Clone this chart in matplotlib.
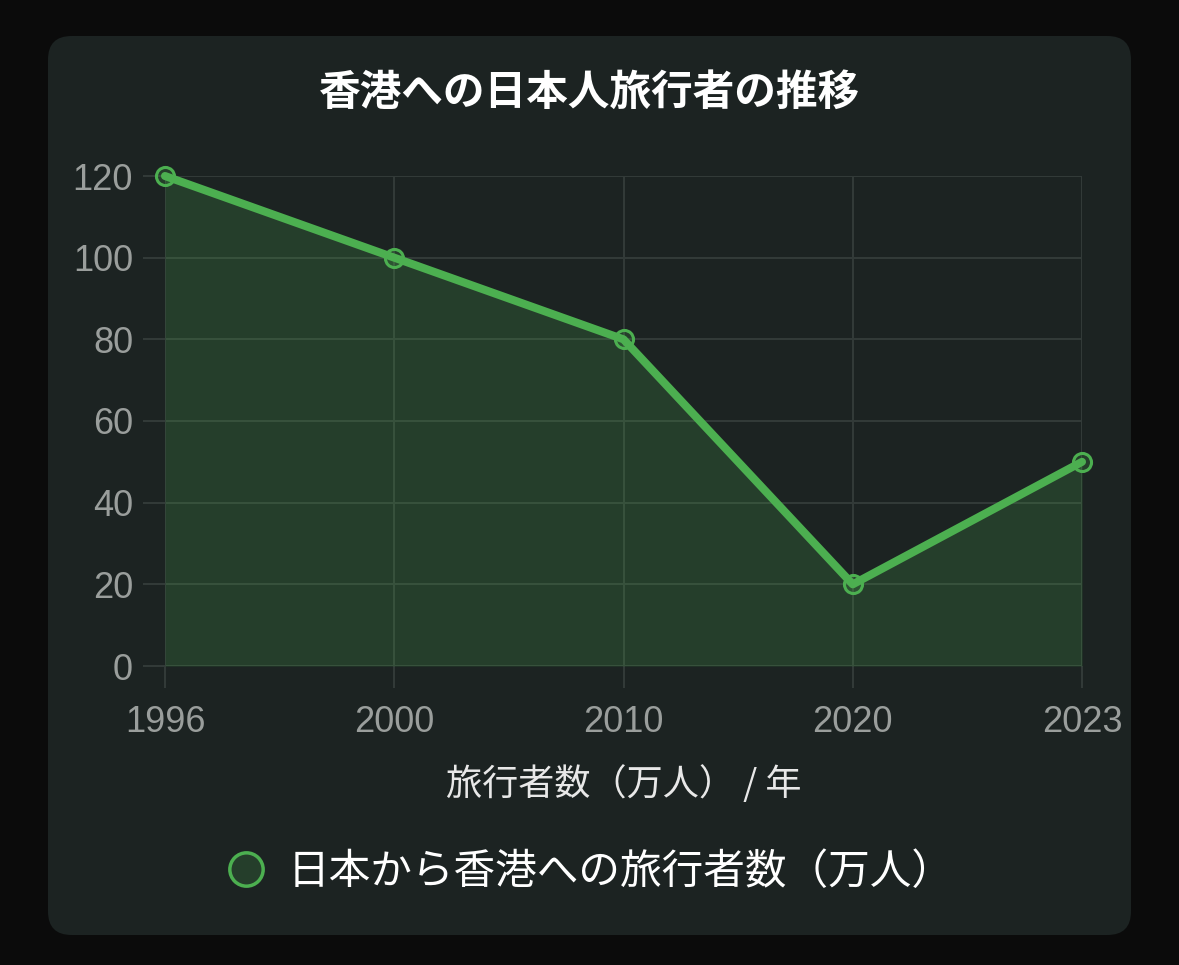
import matplotlib
matplotlib.use("Agg")
import matplotlib.pyplot as plt
from matplotlib.patches import FancyBboxPatch
from matplotlib.lines import Line2D

plt.rcParams['font.family'] = ['Liberation Sans', 'Noto Sans CJK JP', 'DejaVu Sans']

years = ['1996', '2000', '2010', '2020', '2023']
travelers = [120, 100, 80, 20, 50]
y_ticks = [0, 20, 40, 60, 80, 100, 120]

title = '香港への日本人旅行者の推移'
x_label = '旅行者数（万人） / 年'
series_label = '日本から香港への旅行者数（万人）'

bg = '#0b0b0b'
card = '#1c2322'
green = '#4caf50'
fill = (76 / 255, 175 / 255, 80 / 255, 0.2)
grid = '#323a38'
tick_col = '#9a9e9c'
cjk = ['Noto Sans CJK JP', 'DejaVu Sans']

W, H = 1179, 965
fig = plt.figure(figsize=(W / 100, H / 100), dpi=100)
fig.patch.set_facecolor(bg)

# rounded card behind the chart
fig.patches.append(FancyBboxPatch((48 / W, 1 - 935 / H), (1131 - 48) / W, (935 - 36) / H,
                                  boxstyle='round,pad=0,rounding_size=0.02',
                                  transform=fig.transFigure, facecolor=card,
                                  edgecolor='none', zorder=-10, mutation_aspect=W / H))

ax = fig.add_axes([165 / W, 1 - 666 / H, (1082 - 165) / W, (666 - 176) / H])
ax.set_facecolor('none')
ax.set_zorder(1)

x = list(range(len(years)))
ax.fill_between(x, travelers, 0, color=fill, linewidth=0, zorder=1)
ax.plot(x, travelers, 'o', markersize=13, markerfacecolor=fill,
        markeredgecolor=green, markeredgewidth=2.2, zorder=2, clip_on=False)
ax.plot(x, travelers, color=green, linewidth=5.8, solid_capstyle='round', zorder=3,
        clip_on=False)

ax.set_xlim(0, len(years) - 1)
ax.set_ylim(0, 120)
ax.set_xticks(x)
ax.set_xticklabels(years)
ax.set_yticks(y_ticks)
ax.grid(True, color=grid, linewidth=1.5)
ax.set_axisbelow(True)
for s in ax.spines.values():
    s.set_visible(False)
ax.tick_params(axis='both', colors=grid, length=16, width=1.5, labelsize=26,
               labelcolor=tick_col, pad=7)
ax.tick_params(axis='x', pad=12)

ax.set_xlabel(x_label, fontsize=26, color='#e8e8e8', family=cjk, labelpad=18)

fig.text(0.5, 1 - 93 / H, title, ha='center', va='center', fontsize=30,
         fontweight='bold', color='white', family=cjk)

handle = Line2D([], [], linestyle='none', marker='o', markersize=24,
                markerfacecolor=fill, markeredgecolor=green, markeredgewidth=2.5)
leg = fig.legend([handle], [series_label], loc='center', bbox_to_anchor=(0.5, 1 - 872 / H),
                 frameon=False, prop={'family': cjk, 'size': 30}, handletextpad=0.5,
                 handlelength=1.0)
for t in leg.get_texts():
    t.set_color('white')

fig.savefig('out.png', dpi=100, facecolor=bg)
